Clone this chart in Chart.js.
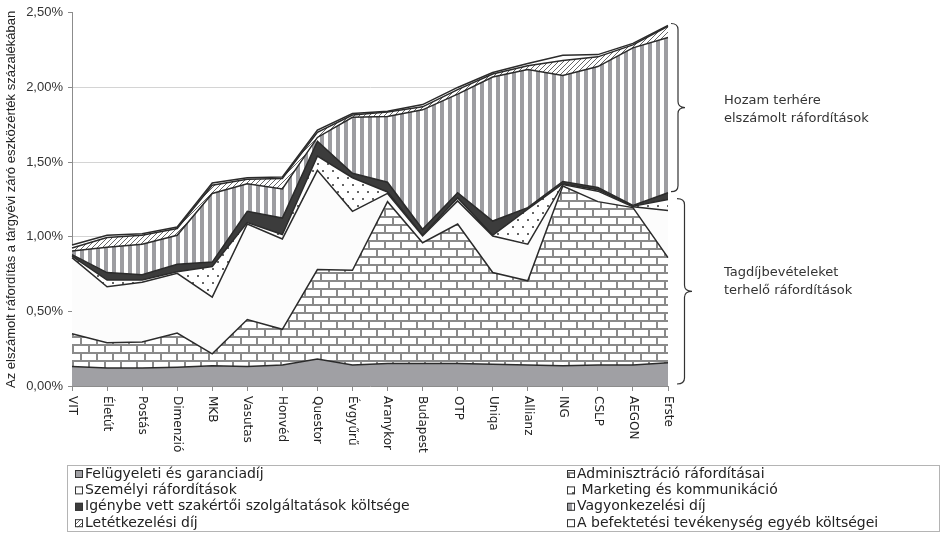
<!DOCTYPE html>
<html>
<head>
<meta charset="utf-8">
<script src="https://cdn.jsdelivr.net/npm/chart.js@4.4.1/dist/chart.umd.min.js"></script>
<style>
  html, body { margin: 0; padding: 0; background: #fff; }
  #wrap { width: 948px; height: 534px; }
</style>
</head>
<body>
<div id="wrap"><canvas id="chart" width="948" height="534"></canvas></div>
<script>
const categories = ["VIT", "Életút", "Postás", "Dimenzió", "MKB", "Vasutas", "Honvéd", "Questor", "Évgyűrű",
  "Aranykor", "Budapest", "OTP", "Uniqa", "Allianz", "ING", "CSLP", "AEGON", "Erste"];

// share of assets, %, bottom of stack first
const felugyeleti    = [0.13, 0.12, 0.12, 0.125, 0.135, 0.13, 0.14, 0.18, 0.14, 0.15, 0.15, 0.15, 0.145, 0.14, 0.135, 0.14, 0.14, 0.155];
const adminisztracio = [0.22, 0.17, 0.175, 0.23, 0.08, 0.315, 0.24, 0.60, 0.635, 1.085, 0.81, 0.935, 0.615, 0.565, 1.205, 1.095, 1.055, 0.705];
const szemelyi       = [0.51, 0.375, 0.40, 0.40, 0.38, 0.64, 0.605, 0.665, 0.395, 0.055, 0.045, 0.155, 0.245, 0.245, 0.01, 0.07, 0.005, 0.315];
const marketing      = [0.01, 0.045, 0.015, 0.01, 0.205, 0.01, 0.03, 0.095, 0.225, 0.01, 0.005, 0.02, 0.005, 0.235, 0.005, 0.01, 0.005, 0.075];
const igenybe        = [0.01, 0.05, 0.035, 0.05, 0.03, 0.075, 0.11, 0.10, 0.03, 0.065, 0.04, 0.035, 0.095, 0.01, 0.015, 0.015, 0.005, 0.045];
const vagyonkezelesi = [0.025, 0.17, 0.205, 0.195, 0.46, 0.185, 0.195, 0.025, 0.375, 0.44, 0.80, 0.66, 0.965, 0.925, 0.71, 0.81, 1.055, 1.04];
const letetkezelesi  = [0.02, 0.065, 0.06, 0.045, 0.055, 0.03, 0.07, 0.035, 0.015, 0.03, 0.02, 0.03, 0.02, 0.025, 0.10, 0.065, 0.02, 0.075];
const egyeb          = [0.02, 0.015, 0.01, 0.01, 0.015, 0.01, 0.01, 0.015, 0.01, 0.005, 0.015, 0.015, 0.01, 0.015, 0.035, 0.015, 0.01, 0.005];

const yTicks = [0, 0.5, 1, 1.5, 2, 2.5];

function makePattern(w, h, draw) {
  const c = document.createElement('canvas');
  c.width = w; c.height = h;
  const g = c.getContext('2d');
  g.fillStyle = '#fff';
  g.fillRect(0, 0, w, h);
  draw(g);
  return g.createPattern(c, 'repeat');
}

const brick = makePattern(16, 16, g => {
  g.fillStyle = '#8a8a8a';
  g.fillRect(0, 0, 16, 2);
  g.fillRect(0, 8, 16, 2);
  g.fillRect(0, 2, 2, 6);
  g.fillRect(8, 10, 2, 6);
});
const dots = makePattern(10, 14, g => {
  g.fillStyle = '#666';
  g.fillRect(2, 2, 2, 2);
  g.fillRect(7, 9, 2, 2);
});
const stripes = makePattern(8, 1, g => {
  g.fillStyle = '#9d9da1';
  g.fillRect(0, 0, 4, 1);
});
const hatch = makePattern(5, 5, g => {
  g.strokeStyle = '#555';
  g.lineWidth = 0.9;
  g.beginPath();
  g.moveTo(0, 5); g.lineTo(5, 0);
  g.moveTo(-1, 1); g.lineTo(1, -1);
  g.moveTo(4, 6); g.lineTo(6, 4);
  g.stroke();
});

function area(label, data, bg, fill) {
  return {
    label: label, data: data, backgroundColor: bg, fill: fill,
    borderColor: '#2b2b2b', borderWidth: 1.5, pointRadius: 0, tension: 0
  };
}

const pct = v => v.toFixed(2).replace('.', ',') + '%';

function drawBrace(ctx, x, y1, y2, w) {
  const mid = (y1 + y2) / 2, xm = x + w / 2, r = 6;
  ctx.beginPath();
  ctx.moveTo(x, y1);
  ctx.quadraticCurveTo(xm, y1, xm, y1 + r);
  ctx.lineTo(xm, mid - r);
  ctx.quadraticCurveTo(xm, mid, x + w, mid);
  ctx.quadraticCurveTo(xm, mid, xm, mid + r);
  ctx.lineTo(xm, y2 - r);
  ctx.quadraticCurveTo(xm, y2, x, y2);
  ctx.stroke();
}

const extras = {
  id: 'extras',
  afterDraw(chart) {
    const ctx = chart.ctx, xs = chart.scales.x, ys = chart.scales.y;
    ctx.save();
    // x labels, rotated clockwise
    ctx.fillStyle = '#222';
    ctx.font = '12px "DejaVu Sans"';
    ctx.textAlign = 'left';
    ctx.textBaseline = 'middle';
    categories.forEach((c, i) => {
      ctx.save();
      ctx.translate(xs.getPixelForTick(i), ys.bottom + 10);
      ctx.rotate(Math.PI / 2);
      ctx.fillText(c, 0, 0);
      ctx.restore();
    });

    // braces at the last category
    const n = categories.length - 1;
    let lower = 0;
    [felugyeleti, adminisztracio, szemelyi, marketing, igenybe].forEach(a => lower += a[n]);
    let total = lower;
    [vagyonkezelesi, letetkezelesi, egyeb].forEach(a => total += a[n]);
    ctx.strokeStyle = '#333';
    ctx.lineWidth = 1.2;
    drawBrace(ctx, xs.right + 3, ys.getPixelForValue(total) - 2, ys.getPixelForValue(lower) - 1, 14);
    drawBrace(ctx, xs.right + 9, ys.getPixelForValue(lower) + 6, ys.bottom - 2, 15);

    ctx.fillStyle = '#333';
    ctx.font = '13px "DejaVu Sans"';
    ctx.fillText('Hozam terhére', 724, 101);
    ctx.fillText('elszámolt ráfordítások', 724, 119);
    ctx.fillText('Tagdíjbevételeket', 724, 273);
    ctx.fillText('terhelő ráfordítások', 724, 291);

    // legend
    ctx.strokeStyle = '#b4b4b4';
    ctx.lineWidth = 1;
    ctx.strokeRect(67.5, 465.5, 872, 66);
    ctx.font = '14px "DejaVu Sans"';
    chart.data.datasets.forEach((ds, i) => {
      const x = i % 2 === 0 ? 75 : 567;
      const y = 474 + Math.floor(i / 2) * 16.4;
      ctx.fillStyle = ds.backgroundColor;
      ctx.fillRect(x, y - 4, 8, 8);
      ctx.strokeStyle = '#333';
      ctx.strokeRect(x + 0.5, y - 3.5, 7, 7);
      ctx.fillStyle = '#222';
      ctx.fillText(ds.label, x + 10, y);
    });
    ctx.restore();
  }
};

new Chart(document.getElementById('chart'), {
  type: 'line',
  data: {
    labels: categories,
    datasets: [
      area('Felügyeleti és garanciadíj', felugyeleti, '#a0a0a4', 'origin'),
      area('Adminisztráció ráfordításai', adminisztracio, brick, '-1'),
      area('Személyi ráfordítások', szemelyi, '#fcfcfc', '-1'),
      area(' Marketing és kommunikáció', marketing, dots, '-1'),
      area('Igénybe vett szakértői szolgáltatások költsége', igenybe, '#3c3c3c', '-1'),
      area('Vagyonkezelési díj', vagyonkezelesi, stripes, '-1'),
      area('Letétkezelési díj', letetkezelesi, hatch, '-1'),
      area('A befektetési tevékenység egyéb költségei', egyeb, '#ffffff', '-1')
    ]
  },
  options: {
    responsive: false,
    animation: false,
    devicePixelRatio: 1,
    layout: { padding: { top: 11, right: 280, bottom: 68, left: 0 } },
    plugins: { legend: { display: false }, tooltip: { enabled: false } },
    elements: { line: { borderJoinStyle: 'miter' } },
    scales: {
      x: {
        offset: false,
        grid: { display: true, drawOnChartArea: false, drawTicks: true, tickLength: 5, color: '#8c8c8c' },
        border: { color: '#8c8c8c' },
        ticks: { display: false },
        afterFit: s => { s.height = 80; }
      },
      y: {
        stacked: true,
        min: 0,
        max: 2.5,
        afterBuildTicks: s => { s.ticks = yTicks.map(v => ({ value: v })); },
        ticks: {
          callback: v => pct(v),
          font: { family: 'Liberation Sans', size: 13 },
          color: '#333',
          padding: 5
        },
        grid: {
          color: c => (c.tick && c.tick.value === 2.5 ? 'rgba(0,0,0,0)' : '#d4d4d4'),
          tickColor: '#8c8c8c',
          tickLength: 4
        },
        border: { color: '#8c8c8c' },
        title: {
          display: true,
          text: 'Az elszámolt ráfordítás a tárgyévi záró eszközérték százalékában',
          font: { family: 'Liberation Sans', size: 13 },
          color: '#222',
          padding: { top: 4, bottom: 0 }
        },
        afterFit: s => { s.width = 72; }
      }
    }
  },
  plugins: [extras]
});
</script>
</body>
</html>
